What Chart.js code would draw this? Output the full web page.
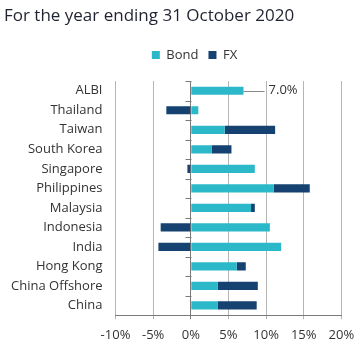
<!DOCTYPE html>
<html><head><meta charset="utf-8">
<script src="https://cdn.jsdelivr.net/npm/chart.js@4/dist/chart.umd.min.js"></script>
<style>html,body{margin:0;padding:0;background:#fff}#wrap{width:361px;height:356px}</style>
</head><body><div id="wrap"><canvas id="c" width="361" height="356"></canvas></div>
<script>
const categories = ['ALBI','Thailand','Taiwan','South Korea','Singapore','Philippines','Malaysia','Indonesia','India','Hong Kong','China Offshore','China'];
const bondValues = [7.0, 1.0, 4.5, 2.8, 8.5, 11.0, 8.0, 10.5, 12.0, 6.1, 3.6, 3.55];
const fxValues   = [0.0, -3.25, 6.7, 2.6, -0.45, 4.8, 0.5, -4.0, -4.3, 1.2, 5.3, 5.2];
const xTicks = [-10, -5, 0, 5, 10, 15, 20];
const albiLabel = '7.0%';
const albiTotal = 7.0;

const FONT = '"Open Sans", sans-serif';
const annot = {
  id: 'annot',
  afterLayout(chart) {
    if (chart.legend) { chart.legend.left += 17; chart.legend.right += 17; }
  },
  afterDatasetsDraw(chart) {
    const {ctx, scales: {x, y}} = chart;
    const zx = Math.round(x.getPixelForValue(0)) + 0.5;
    ctx.save();
    ctx.strokeStyle = '#7a7a7a';
    ctx.lineWidth = 1;
    ctx.beginPath();
    for (let i = 0; i < categories.length; i++) {
      const yb = Math.round(y.getPixelForValue(i) - (y.getPixelForValue(1) - y.getPixelForValue(0)) / 2) + 0.5;
      ctx.moveTo(zx - 6, yb); ctx.lineTo(zx, yb);
    }
    ctx.stroke();
    const yy = y.getPixelForValue(0);
    const x0 = x.getPixelForValue(albiTotal);
    const x1 = x.getPixelForValue(albiTotal + 2.8);
    ctx.strokeStyle = '#8a8a8a';
    ctx.beginPath();
    ctx.moveTo(x0, Math.round(yy) + 0.5);
    ctx.lineTo(x1, Math.round(yy) + 0.5);
    ctx.stroke();
    ctx.fillStyle = '#333';
    ctx.font = '13px ' + FONT;
    ctx.textBaseline = 'middle';
    ctx.fillText(albiLabel, x1 + 4, yy);
    ctx.restore();
  }
};

new Chart(document.getElementById('c'), {
  type: 'bar',
  data: {
    labels: categories,
    datasets: [
      {label: 'Bond', data: bondValues, backgroundColor: '#2bb8c9', barPercentage: 0.42, categoryPercentage: 1},
      {label: 'FX', data: fxValues, backgroundColor: '#154270', barPercentage: 0.42, categoryPercentage: 1}
    ]
  },
  options: {
    indexAxis: 'y',
    responsive: false,
    animation: false,
    devicePixelRatio: 1,
    layout: {padding: {left: 4, right: 10, top: 0, bottom: 5.4}},
    plugins: {
      title: {display: true, text: 'For the year ending 31 October 2020', align: 'start',
        color: '#1f2230', font: {family: FONT, size: 17, weight: 'normal'}, padding: {top: 6, bottom: 12}},
      legend: {display: true, position: 'top', align: 'center',
        labels: {boxWidth: 8, boxHeight: 8, color: '#333', font: {family: FONT, size: 13}, padding: 10}},
      tooltip: {enabled: false}
    },
    scales: {
      x: {
        type: 'linear', stacked: true, min: xTicks[0], max: xTicks[xTicks.length - 1],
        afterBuildTicks(s) { s.ticks = xTicks.map(v => ({value: v})); },
        ticks: {callback: v => v + '%', color: '#333', font: {family: FONT, size: 13, lineHeight: 1.37}, padding: 6.8},
        grid: {color: ctx => ctx.tick && ctx.tick.value === 0 ? '#7a7a7a' : '#b5b5b5', tickLength: 4, drawTicks: true},
        border: {display: true, color: '#7a7a7a'}
      },
      xTop: {
        type: 'linear', position: 'top', display: true,
        ticks: {display: false}, grid: {display: false, drawTicks: false}, border: {display: false},
        afterFit(s) { s.height = 9.6; }
      },
      y: {
        type: 'category', stacked: true,
        afterFit(s) { s.width = 111.5; },
        ticks: {color: '#333', font: {family: FONT, size: 13}, padding: 13},
        grid: {display: false, drawTicks: false},
        border: {display: false}
      }
    }
  },
  plugins: [annot]
});
</script></body></html>
